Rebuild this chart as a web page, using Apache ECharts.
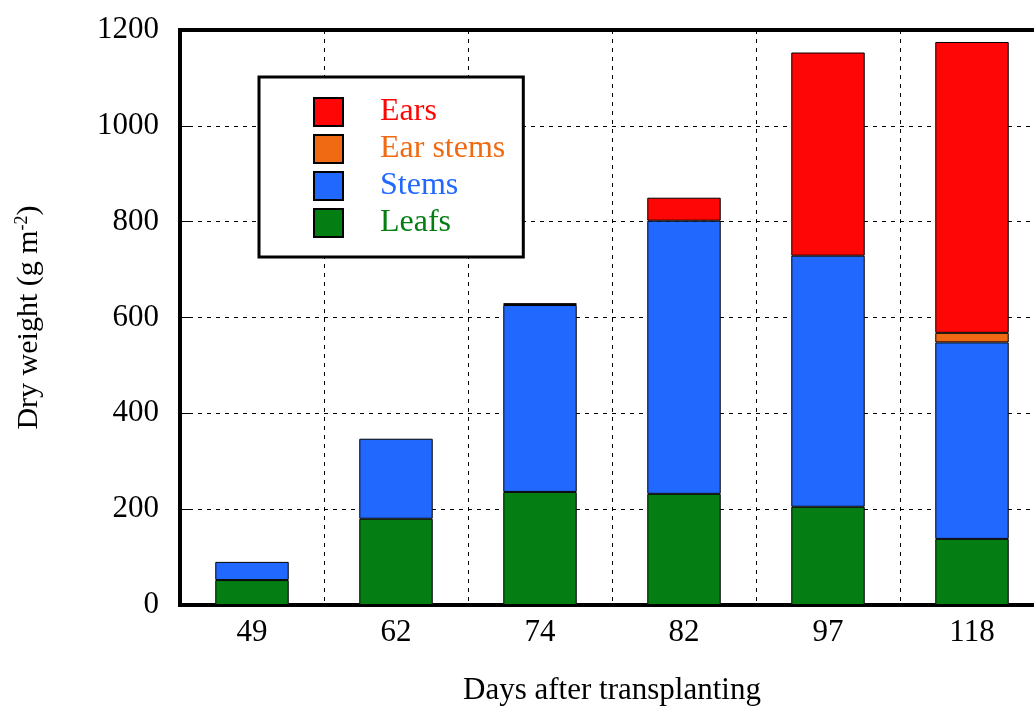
<!DOCTYPE html>
<html><head><meta charset="utf-8">
<script src="https://cdn.jsdelivr.net/npm/echarts@6/dist/echarts.min.js"></script>
<style>html,body{margin:0;padding:0;background:#fff}#c{width:1034px;height:709px}</style>
</head><body><div id="c"></div>
<script>
var categories = ['49', '62', '74', '82', '97', '118'];
var leafs = [52, 180, 236, 232, 205, 138];
var stems = [38, 167, 390, 570, 524, 410];
var earStems = [null, null, null, null, null, 20];
var ears = [null, null, 4, 48, 424, 607];
var yTicks = [0, 200, 400, 600, 800, 1000, 1200];

var colors = {Ears: '#ff0606', 'Ear stems': '#f06a14', Stems: '#2168ff', Leafs: '#047e13'};
var font = 'Liberation Serif, Times New Roman, serif';

function bar(name, data) {
  return {
    name: name, type: 'bar', stack: 'all', data: data, barWidth: '51%',
    itemStyle: {color: colors[name], borderColor: '#000', borderWidth: 1}
  };
}

var chart = echarts.init(document.getElementById('c'));
chart.setOption({
  animation: false,
  grid: {left: 180, top: 30, width: 864, bottom: 104, outerBoundsMode: 'none', containLabel: false,
    show: true, borderColor: '#000', borderWidth: 4},
  legend: {
    left: 259, top: 77, orient: 'vertical',
    backgroundColor: '#fff', borderColor: '#000', borderWidth: 3,
    padding: [19, 18, 18, 54],
    itemWidth: 29, itemHeight: 28, itemGap: 5,
    itemStyle: {borderColor: '#000', borderWidth: 2},
    textStyle: {fontFamily: font, fontSize: 32, padding: [0, 0, 0, 32]},
    data: ['Ears', 'Ear stems', 'Stems', 'Leafs'].map(function (n) {
      return {name: n, icon: 'rect', textStyle: {color: colors[n]}};
    })
  },
  xAxis: [{
    type: 'category', data: categories, position: 'bottom',
    name: 'Days after transplanting', nameLocation: 'middle', nameGap: 70,
    nameTextStyle: {fontFamily: font, fontSize: 31, color: '#000'},
    axisLine: {lineStyle: {color: '#000', width: 4}},
    axisTick: {inside: true, length: 10, lineStyle: {color: '#000', width: 1}},
    axisLabel: {fontFamily: font, fontSize: 31, color: '#000', margin: 12},
    splitLine: {show: true, lineStyle: {color: '#000', width: 1, type: [4, 5]}}
  }, {
    type: 'category', data: categories, position: 'top',
    axisLine: {show: false},
    axisTick: {inside: true, length: 10, lineStyle: {color: '#000', width: 1}},
    axisLabel: {show: false}
  }],
  yAxis: {
    type: 'value', min: 0, max: 1200, interval: 200,
    name: '{a|Dry weight (g m}{s|-2}{a|)}', nameLocation: 'middle', nameGap: 135, nameRotate: 90,
    nameTextStyle: {rich: {
      a: {fontFamily: font, fontSize: 30, color: '#000'},
      s: {fontFamily: font, fontSize: 18, color: '#000', verticalAlign: 'top', padding: [0, 0, 14, 0]}
    }},
    axisLine: {show: true, lineStyle: {color: '#000', width: 4}},
    axisTick: {show: true, inside: true, length: 10, lineStyle: {color: '#000', width: 1}},
    axisLabel: {fontFamily: font, fontSize: 31, color: '#000', margin: 21,
      formatter: function (v) { return yTicks.indexOf(v) >= 0 ? String(v) : ''; }},
    splitLine: {show: true, lineStyle: {color: '#000', width: 1, type: [4, 5]}}
  },
  series: [bar('Leafs', leafs), bar('Stems', stems), bar('Ear stems', earStems), bar('Ears', ears)]
});
</script></body></html>
